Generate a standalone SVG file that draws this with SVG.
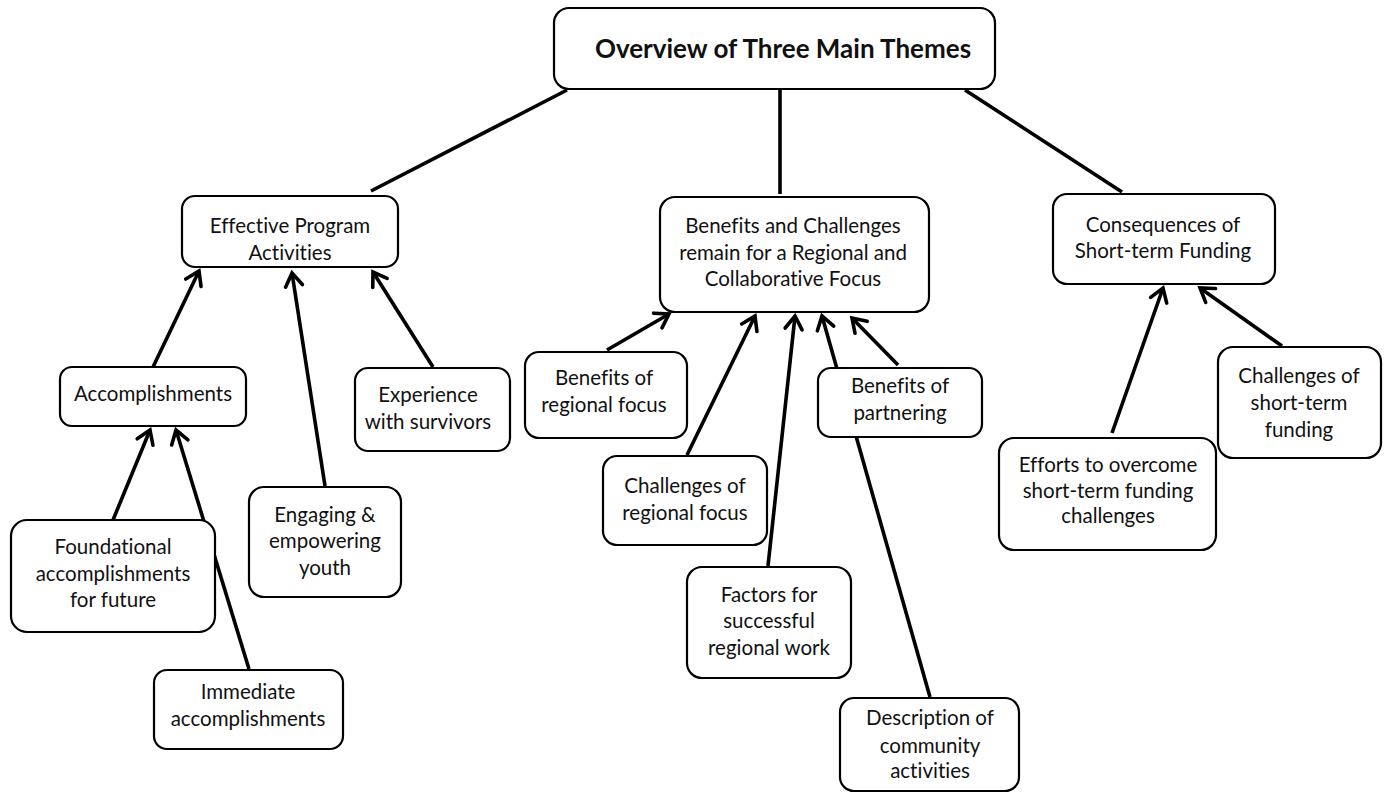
<svg xmlns="http://www.w3.org/2000/svg" width="1387" height="793" viewBox="0 0 1387 793">
<style>
.box{fill:#fff;stroke:#000;stroke-width:2.2}
.t{font-family:Lato,"Liberation Sans",sans-serif;font-size:20.5px;fill:#111;text-anchor:middle;font-variant-ligatures:none}
.title{font-family:Lato,"Liberation Sans",sans-serif;font-size:26px;font-weight:bold;fill:#111;text-anchor:middle;font-variant-ligatures:none}
.c{stroke:#000;stroke-width:3.6;fill:none}
.a{marker-end:url(#ah)}
</style>
<defs>
<marker id="ah" markerUnits="userSpaceOnUse" markerWidth="30" markerHeight="30" viewBox="-20 -15 30 30" refX="0" refY="0" orient="auto">
<path d="M-13,-8.5 L0,0 L-13,8.5" fill="none" stroke="#000" stroke-width="3.6" stroke-linecap="round"/>
</marker>
</defs>
<rect width="1387" height="793" fill="#fff"/>
<g id="connectors">
<line class="c" x1="567" y1="90" x2="371" y2="191"/>
<line class="c" x1="780" y1="89" x2="780" y2="194"/>
<line class="c" x1="965" y1="90" x2="1122" y2="192"/>
<line class="c a" x1="153" y1="367" x2="199" y2="271"/>
<line class="c a" x1="325" y1="486" x2="292" y2="273"/>
<line class="c a" x1="433" y1="367" x2="373" y2="272"/>
<line class="c a" x1="113" y1="520" x2="150" y2="430"/>
<line class="c a" x1="249" y1="669" x2="176" y2="430"/>
<line class="c a" x1="607" y1="350" x2="669" y2="314"/>
<line class="c a" x1="687" y1="455" x2="755" y2="316"/>
<line class="c a" x1="768" y1="566" x2="795" y2="316"/>
<line class="c a" x1="930" y1="697" x2="822" y2="316"/>
<line class="c a" x1="898" y1="365" x2="852" y2="318"/>
<line class="c a" x1="1112" y1="433" x2="1163" y2="288"/>
<line class="c a" x1="1282" y1="346" x2="1200" y2="288"/>
</g>
<g id="n-title">
<rect class="box" x="554" y="8" width="441" height="81" rx="15" stroke-width="2.8"/>
<text class="title" x="783" y="58">Overview of Three Main Themes</text>
</g>
<g id="n-effective">
<rect class="box" x="182" y="196" width="216" height="71" rx="13"/>
<text class="t" x="290" y="233">Effective Program</text>
<text class="t" x="290" y="260">Activities</text>
</g>
<g id="n-benefits-challenges">
<rect class="box" x="660" y="197" width="269" height="115" rx="15"/>
<text class="t" x="793" y="233">Benefits and Challenges</text>
<text class="t" x="793" y="260">remain for a Regional and</text>
<text class="t" x="793" y="286">Collaborative Focus</text>
</g>
<g id="n-consequences">
<rect class="box" x="1053" y="194" width="222" height="90" rx="14"/>
<text class="t" x="1163" y="232">Consequences of</text>
<text class="t" x="1163" y="258">Short-term Funding</text>
</g>
<g id="n-accomplishments">
<rect class="box" x="60" y="367" width="186" height="59" rx="12"/>
<text class="t" x="153" y="401">Accomplishments</text>
</g>
<g id="n-experience">
<rect class="box" x="355" y="368" width="155" height="83" rx="13"/>
<text class="t" x="428" y="402">Experience</text>
<text class="t" x="428" y="429">with survivors</text>
</g>
<g id="n-foundational">
<rect class="box" x="11" y="520" width="204" height="112" rx="16"/>
<text class="t" x="113" y="554">Foundational</text>
<text class="t" x="113" y="581">accomplishments</text>
<text class="t" x="113" y="607">for future</text>
</g>
<g id="n-immediate">
<rect class="box" x="154" y="670" width="189" height="79" rx="13"/>
<text class="t" x="248" y="699">Immediate</text>
<text class="t" x="248" y="726">accomplishments</text>
</g>
<g id="n-engaging">
<rect class="box" x="249" y="487" width="152" height="110" rx="15"/>
<text class="t" x="325" y="522">Engaging &amp;</text>
<text class="t" x="325" y="548">empowering</text>
<text class="t" x="325" y="575">youth</text>
</g>
<g id="n-benefits-regional">
<rect class="box" x="525" y="352" width="162" height="86" rx="14"/>
<text class="t" x="604" y="385">Benefits of</text>
<text class="t" x="604" y="412">regional focus</text>
</g>
<g id="n-benefits-partnering">
<rect class="box" x="818" y="368" width="164" height="69" rx="13"/>
<text class="t" x="900" y="393">Benefits of</text>
<text class="t" x="900" y="420">partnering</text>
</g>
<g id="n-challenges-regional">
<rect class="box" x="603" y="456" width="164" height="89" rx="14"/>
<text class="t" x="685" y="493">Challenges of</text>
<text class="t" x="685" y="520">regional focus</text>
</g>
<g id="n-factors">
<rect class="box" x="687" y="567" width="164" height="111" rx="15"/>
<text class="t" x="769" y="602">Factors for</text>
<text class="t" x="769" y="628">successful</text>
<text class="t" x="769" y="655">regional work</text>
</g>
<g id="n-description">
<rect class="box" x="840" y="698" width="179" height="93" rx="14"/>
<text class="t" x="930" y="725">Description of</text>
<text class="t" x="930" y="753">community</text>
<text class="t" x="930" y="778">activities</text>
</g>
<g id="n-efforts">
<rect class="box" x="999" y="438" width="217" height="112" rx="15"/>
<text class="t" x="1108" y="472">Efforts to overcome</text>
<text class="t" x="1108" y="498">short-term funding</text>
<text class="t" x="1108" y="523">challenges</text>
</g>
<g id="n-challenges-funding">
<rect class="box" x="1218" y="347" width="163" height="111" rx="15"/>
<text class="t" x="1299" y="383">Challenges of</text>
<text class="t" x="1299" y="410">short-term</text>
<text class="t" x="1299" y="437">funding</text>
</g>
</svg>
